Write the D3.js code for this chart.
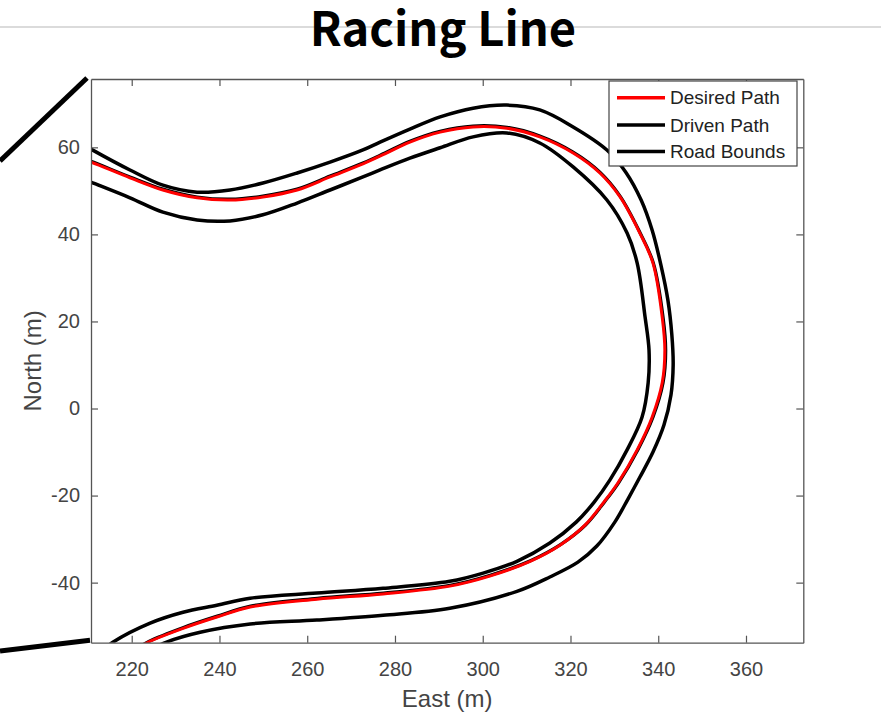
<!DOCTYPE html>
<html>
<head>
<meta charset="utf-8">
<script src="https://cdn.jsdelivr.net/npm/d3@7"></script>
<style>
  html, body { margin: 0; padding: 0; background: #fff; }
  svg { display: block; }
</style>
</head>
<body>
<svg id="chart" width="881" height="715"></svg>
<script>
// ---------------- data (East, North in metres) ----------------
const titleText = "Racing Line";
const xLabelText = "East (m)";
const yLabelText = "North (m)";
const eastTicks = [220, 240, 260, 280, 300, 320, 340, 360];
const northTicks = [-40, -20, 0, 20, 40, 60];
const eastDomain = [210.72, 373.06];
const northDomain = [-53.8, 75.7];
const legendLabels = ["Desired Path", "Driven Path", "Road Bounds"];
const legendColors = ["#ff0000", "#000000", "#000000"];

const desiredPath = [
  [209, 57.1], [210.7, 56.6], [219.6, 53.0], [227.1, 50.2], [234.9, 48.4], [242.4, 47.9],
  [249.9, 48.6], [257.7, 50.2], [265.2, 53.2], [272.7, 56.2], [277.7, 58.5], [283.4, 61.2],
  [290.3, 63.5], [297.8, 64.7], [305.5, 64.4], [313.0, 62.4], [320.6, 58.7], [326.7, 54.1],
  [331.3, 48.6], [335.8, 40.3], [338.8, 33.4], [340.9, 21.0], [341.5, 13.4], [340.9, 5.9],
  [338.6, -2.0], [335.2, -9.5], [330.8, -17.1], [327.6, -21.5], [323.3, -26.8], [317.6, -31.4],
  [310.8, -35.1], [301.6, -38.5], [292.5, -40.8], [277.3, -42.6], [262.2, -43.8], [247.0, -45.6],
  [239.4, -47.9], [231.7, -50.5], [223.7, -53.7], [221.5, -55.0]
];

const drivenPath = [
  [209, 57.3], [210.7, 56.8], [219.6, 53.2], [227.1, 50.4], [234.9, 48.6], [242.4, 48.1],
  [249.9, 48.8], [257.7, 50.4], [265.2, 53.4], [272.7, 56.4], [277.7, 58.7], [283.4, 61.4],
  [290.3, 63.7], [297.8, 64.9], [305.5, 64.6], [313.0, 62.6], [320.6, 58.9], [326.7, 54.3],
  [331.3, 48.8], [335.8, 40.5], [338.9, 33.4], [341.1, 21.0], [341.7, 13.4], [341.1, 5.9],
  [338.8, -2.0], [335.4, -9.4], [331.0, -17.0], [327.8, -21.4], [323.5, -26.7], [317.8, -31.2],
  [311.0, -34.9], [301.7, -38.3], [292.6, -40.6], [277.4, -42.4], [262.3, -43.6], [247.1, -45.4],
  [239.5, -47.7], [231.8, -50.3], [223.9, -53.5], [221.7, -54.8]
];

const roadBoundOuter = [
  [209, 60.6], [210.7, 59.6], [219.6, 54.8], [227.1, 51.3], [234.9, 49.7], [242.4, 50.2],
  [249.9, 51.8], [257.7, 54.1], [265.2, 56.6], [272.7, 59.4], [276.6, 61.2], [283.4, 64.2],
  [290.3, 67.0], [297.8, 69.0], [305.5, 69.7], [313.0, 68.6], [320.6, 64.7], [328.3, 59.4],
  [332.6, 54.3], [336.1, 47.9], [338.6, 41.0], [340.6, 33.0], [342.2, 24.9], [343.1, 16.9],
  [343.4, 10.0], [342.9, 3.1], [341.3, -3.8], [338.8, -10.0], [335.8, -15.8], [333.1, -20.8],
  [330.1, -26.1], [326.0, -31.6], [321.7, -35.3], [315.3, -38.7], [307.8, -42.0], [292.5, -45.9],
  [277.3, -47.5], [262.2, -48.6], [247.0, -49.5], [235.6, -51.4], [227.8, -53.7], [225.5, -54.8]
];

const roadBoundInner = [
  [209, 52.7], [210.7, 52.0], [219.6, 48.4], [227.1, 45.1], [234.9, 43.3], [242.4, 43.1],
  [249.9, 44.5], [257.7, 47.2], [265.2, 50.2], [272.7, 53.2], [276.6, 54.8], [283.4, 57.5],
  [290.3, 59.9], [297.8, 62.4], [305.5, 63.3], [313.0, 61.0], [320.6, 55.5], [328.3, 47.9],
  [332.9, 40.3], [335.2, 33.4], [337.0, 21.0], [337.9, 13.4], [337.7, 5.9], [336.3, -2.0],
  [332.9, -9.5], [329.0, -16.4], [325.4, -21.5], [321.3, -26.1], [315.3, -30.9], [307.8, -35.1],
  [300.1, -37.8], [292.5, -39.7], [277.3, -41.3], [262.2, -42.4], [247.0, -43.6], [239.4, -45.2],
  [231.7, -46.8], [224.2, -49.3], [215.7, -53.7], [213.5, -55.5]
];

// ---------------- layout ----------------
const W = 881, H = 715;
const box = { left: 91, right: 803.3, top: 79, bottom: 642.7 };
const tickFont = "'Liberation Sans', Arial, Helvetica, sans-serif";

const svg = d3.select("#chart");
const x = d3.scaleLinear().domain(eastDomain).range([box.left, box.right]);
const y = d3.scaleLinear().domain(northDomain).range([box.bottom, box.top]);

// header rule + title
svg.append("line")
  .attr("x1", 0).attr("x2", W).attr("y1", 27).attr("y2", 27)
  .attr("stroke", "#cfcfcf").attr("stroke-width", 1.5);

svg.append("text")
  .attr("x", 443).attr("y", 46)
  .attr("text-anchor", "middle")
  .attr("font-family", "'Noto Sans CJK SC', 'Noto Sans', sans-serif")
  .attr("font-weight", 700)
  .attr("font-size", 47)
  .attr("fill", "#000")
  .text(titleText);

// callout (zoom) lines from the axes corners
svg.append("line")
  .attr("x1", 0).attr("y1", 161)
  .attr("x2", x.range()[0] - 4).attr("y2", y.range()[1] - 1)
  .attr("stroke", "#000").attr("stroke-width", 5);
svg.append("line")
  .attr("x1", 0).attr("y1", 651)
  .attr("x2", x.range()[0] - 1).attr("y2", y.range()[0] - 2.5)
  .attr("stroke", "#000").attr("stroke-width", 5);

// plot background
svg.append("rect")
  .attr("x", box.left).attr("y", box.top)
  .attr("width", box.right - box.left).attr("height", box.bottom - box.top)
  .attr("fill", "#fff");

// clip
svg.append("clipPath").attr("id", "plotclip")
  .append("rect")
  .attr("x", box.left).attr("y", box.top)
  .attr("width", box.right - box.left).attr("height", box.bottom - box.top);

const line = d3.line()
  .x(d => x(d[0]))
  .y(d => y(d[1]))
  .curve(d3.curveCatmullRom.alpha(0.5));

const plot = svg.append("g").attr("clip-path", "url(#plotclip)");

plot.append("path").datum(drivenPath)
  .attr("d", line).attr("fill", "none")
  .attr("stroke", "#000").attr("stroke-width", 3.2).attr("stroke-linejoin", "round");
plot.append("path").datum(desiredPath)
  .attr("d", line).attr("fill", "none")
  .attr("stroke", "#ff0000").attr("stroke-width", 3).attr("stroke-linejoin", "round");
[roadBoundOuter, roadBoundInner].forEach(b => {
  plot.append("path").datum(b)
    .attr("d", line).attr("fill", "none")
    .attr("stroke", "#000").attr("stroke-width", 3.5).attr("stroke-linejoin", "round");
});

// axes
const axisColor = "#555";
const textColor = "#444";
const fmt = d => String(d);
function styleAxis(g) {
  g.select(".domain").attr("stroke", axisColor).attr("stroke-width", 1.3);
  g.selectAll(".tick line").attr("stroke", axisColor).attr("stroke-width", 1.2);
  g.selectAll(".tick text").attr("fill", textColor)
    .attr("font-family", tickFont).attr("font-size", 20);
}

svg.append("g").attr("transform", `translate(0,${box.bottom})`)
  .call(d3.axisBottom(x).tickValues(eastTicks).tickFormat(fmt).tickSizeInner(-7).tickSizeOuter(0).tickPadding(19))
  .call(styleAxis);
svg.append("g").attr("transform", `translate(0,${box.top})`)
  .call(d3.axisTop(x).tickValues(eastTicks).tickSizeInner(-7).tickSizeOuter(0).tickFormat(""))
  .call(styleAxis);
svg.append("g").attr("transform", `translate(${box.left},0)`)
  .call(d3.axisLeft(y).tickValues(northTicks).tickFormat(fmt).tickSizeInner(-7).tickSizeOuter(0).tickPadding(11))
  .call(styleAxis);
svg.append("g").attr("transform", `translate(${box.right},0)`)
  .call(d3.axisRight(y).tickValues(northTicks).tickSizeInner(-7).tickSizeOuter(0).tickFormat(""))
  .call(styleAxis);

// axis labels
svg.append("text")
  .attr("x", (box.left + box.right) / 2).attr("y", 707)
  .attr("text-anchor", "middle")
  .attr("font-family", tickFont).attr("font-size", 24).attr("fill", textColor)
  .text(xLabelText);
svg.append("text")
  .attr("transform", `translate(41,${(box.top + box.bottom) / 2}) rotate(-90)`)
  .attr("text-anchor", "middle")
  .attr("font-family", tickFont).attr("font-size", 24).attr("fill", textColor)
  .text(yLabelText);

// legend
const leg = svg.append("g");
leg.append("rect")
  .attr("x", 609).attr("y", 81).attr("width", 188).attr("height", 85)
  .attr("fill", "#fff").attr("stroke", "#444").attr("stroke-width", 1.2);
const rowY = [97.7, 125, 151.5];
legendLabels.forEach((lab, i) => {
  leg.append("line")
    .attr("x1", 617).attr("x2", 665).attr("y1", rowY[i]).attr("y2", rowY[i])
    .attr("stroke", legendColors[i]).attr("stroke-width", 3.5);
  leg.append("text")
    .attr("x", 670).attr("y", rowY[i]).attr("dy", "0.35em")
    .attr("font-family", tickFont).attr("font-size", 19).attr("fill", "#222")
    .text(lab);
});
</script>
</body>
</html>
